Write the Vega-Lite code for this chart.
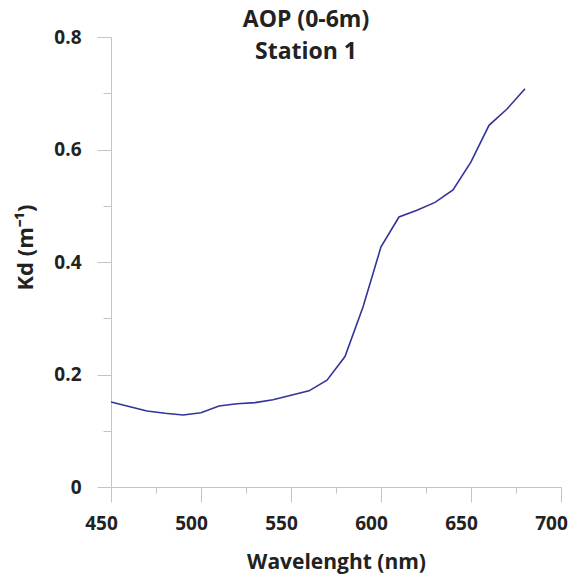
{
  "$schema": "https://vega.github.io/schema/vega-lite/v6.json",
  "width": 450,
  "height": 450,
  "autosize": {"type": "none"},
  "padding": {"left": 111, "top": 37, "right": 11, "bottom": 93},
  "background": "white",
  "title": {
    "text": ["AOP (0-6m)", "Station 1"],
    "font": "Open Sans",
    "fontSize": 23,
    "fontWeight": "bold",
    "color": "#222222",
    "lineHeight": 32,
    "anchor": "middle",
    "dx": -30,
    "offset": -36
  },
  "config": {
    "view": {"stroke": null},
    "axis": {
      "labelFont": "Open Sans",
      "titleFont": "Open Sans",
      "labelFontWeight": "bold",
      "titleFontWeight": "bold",
      "labelColor": "#222222",
      "titleColor": "#222222",
      "domainColor": "#c4c4c4",
      "tickColor": "#c4c4c4",
      "grid": false
    }
  },
  "data": {
    "values": [
      {"wl": 450, "kd": 0.151},
      {"wl": 460, "kd": 0.143},
      {"wl": 470, "kd": 0.135},
      {"wl": 480, "kd": 0.131},
      {"wl": 490, "kd": 0.128},
      {"wl": 500, "kd": 0.132},
      {"wl": 510, "kd": 0.144},
      {"wl": 520, "kd": 0.148},
      {"wl": 530, "kd": 0.150},
      {"wl": 540, "kd": 0.155},
      {"wl": 550, "kd": 0.163},
      {"wl": 560, "kd": 0.171},
      {"wl": 570, "kd": 0.190},
      {"wl": 580, "kd": 0.232},
      {"wl": 590, "kd": 0.320},
      {"wl": 600, "kd": 0.427},
      {"wl": 610, "kd": 0.480},
      {"wl": 620, "kd": 0.492},
      {"wl": 630, "kd": 0.506},
      {"wl": 640, "kd": 0.528},
      {"wl": 650, "kd": 0.578},
      {"wl": 660, "kd": 0.643},
      {"wl": 670, "kd": 0.672},
      {"wl": 680, "kd": 0.708}
    ]
  },
  "mark": {"type": "line", "color": "#33339a", "strokeWidth": 1.6},
  "encoding": {
    "x": {
      "field": "wl",
      "type": "quantitative",
      "scale": {"domain": [450, 700], "nice": false, "zero": false},
      "axis": {
        "title": "Wavelenght (nm)",
        "titleFontSize": 21,
        "titlePadding": 18,
        "labelFontSize": 19,
        "values": [450, 475, 500, 525, 550, 575, 600, 625, 650, 675, 700],
        "labelExpr": "datum.value % 50 === 0 ? datum.label : ''",
        "tickSize": {"condition": {"test": "datum.value % 50 === 0", "value": 15}, "value": 6},
        "labelPadding": 12,
        "labelOffset": -10,
        "labelFlush": false,
        "labelOverlap": false
      }
    },
    "y": {
      "field": "kd",
      "type": "quantitative",
      "scale": {"domain": [0, 0.8], "nice": false},
      "axis": {
        "title": "Kd (m⁻¹)",
        "titleFontSize": 22,
        "titlePadding": 16,
        "titleY": 210,
        "labelFontSize": 19,
        "format": "~g",
        "values": [0, 0.1, 0.2, 0.3, 0.4, 0.5, 0.6, 0.7, 0.8],
        "labelExpr": "round(datum.value * 10) % 2 === 0 ? datum.label : ''",
        "tickSize": {"condition": {"test": "round(datum.value * 10) % 2 === 0", "value": 14}, "value": 8},
        "labelPadding": 16,
        "labelFlush": false,
        "labelOverlap": false
      }
    }
  }
}
